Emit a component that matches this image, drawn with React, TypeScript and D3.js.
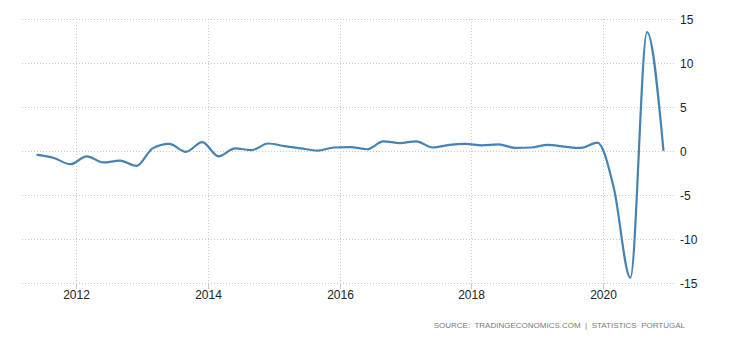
import React from 'react';
import * as d3 from 'd3';

// Portugal GDP growth rate QoQ, 2011 Q2 .. 2020 Q4
const startYear = 2011;
const startQuarter = 2;
const gdpGrowth: number[] = [
  -0.45, -0.8, -1.5,
  -0.6, -1.3, -1.1, -1.7,
  0.3, 0.8, -0.1, 1.0,
  -0.6, 0.3, 0.1, 0.85,
  0.55, 0.3, 0.05, 0.4,
  0.45, 0.2, 1.1, 0.9,
  1.1, 0.4, 0.7, 0.8,
  0.65, 0.75, 0.35, 0.4,
  0.7, 0.5, 0.35, 0.95,
  -4.2, -14.4, 13.5, 0.1,
];
const yTicks = [15, 10, 5, 0, -5, -10, -15];
const xTickYears = [2012, 2014, 2016, 2018, 2020];
const sourceText = 'SOURCE:  TRADINGECONOMICS.COM  |  STATISTICS  PORTUGAL';

const W = 730;
const H = 340;
const plotLeft = 22;
const plotRight = 675;
const plotTop = 19;
const plotBottom = 283;
const font = "Arial, 'Liberation Sans', sans-serif";

// each quarter is placed at the first day of its last month
const quarterDate = (i: number) => {
  const q = startQuarter - 1 + i;
  const year = startYear + Math.floor(q / 4);
  const month = (q % 4) * 3 + 2;
  return new Date(year, month, 1);
};

export default function App() {
  const x = d3.scaleTime()
    .domain([new Date(2012, 0, 1), new Date(2020, 0, 1)])
    .range([76, 603]);
  const y = d3.scaleLinear().domain([-15, 15]).range([plotBottom, plotTop]);

  const line = d3.line<number>()
    .x((_, i) => x(quarterDate(i)))
    .y(d => y(d))
    .curve(d3.curveMonotoneX);

  return (
    <div style={{ position: 'absolute', left: 0, top: 0 }}>
      <svg width={W} height={H} style={{ display: 'block', background: '#fff' }}>
        {/* horizontal grid */}
        {yTicks.map(t => (
          <line key={'h' + t} x1={plotLeft} x2={plotRight} y1={y(t) + 0.5} y2={y(t) + 0.5}
            stroke="#c8c8c8" strokeDasharray="1,2" />
        ))}
        {/* vertical grid + ticks */}
        {xTickYears.map(yr => {
          const px = Math.round(x(new Date(yr, 0, 1))) + 0.5;
          return (
            <g key={'v' + yr}>
              <line x1={px} x2={px} y1={plotTop} y2={plotBottom} stroke="#c8c8c8" strokeDasharray="1,2" />
              <line x1={px} x2={px} y1={plotBottom} y2={plotBottom + 6} stroke="#c8c8c8" />
              <text x={px} y={plotBottom + 16} textAnchor="middle" fontFamily={font} fontSize={12} fill="#222">
                {yr}
              </text>
            </g>
          );
        })}
        {/* y labels */}
        {yTicks.map(t => (
          <text key={'yl' + t} x={680} y={y(t) + 4.5} fontFamily={font} fontSize={12} fill="#222">
            {t}
          </text>
        ))}
        <path d={line(gdpGrowth) || ''} fill="none" stroke="#4682b4" strokeWidth={2.2}
          strokeLinejoin="round" strokeLinecap="round" />
        <text x={685} y={328} textAnchor="end" fontFamily={font} fontSize={8} fill="#7a7a7a"
          style={{ whiteSpace: 'pre' }}>
          {sourceText}
        </text>
      </svg>
    </div>
  );
}
